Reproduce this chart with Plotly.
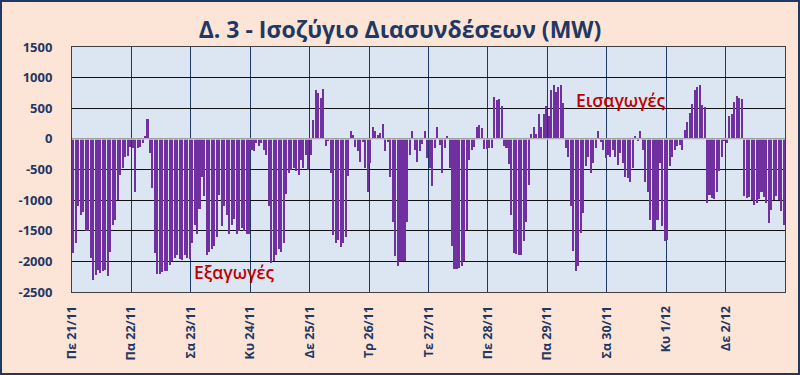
import plotly.graph_objects as go

# ---- data (hourly net interconnection balance, MW) ----
day_labels = ["Πε 21/11", "Πα 22/11", "Σα 23/11", "Κυ 24/11", "Δε 25/11", "Τρ 26/11",
              "Τε 27/11", "Πε 28/11", "Πα 29/11", "Σα 30/11", "Κυ 1/12", "Δε 2/12"]

d_21_11 = [-1860, -1700, -1100, -1240, -1200, -1500, -1510, -1950, -2300, -2220, -2140, -2190,
           -2160, -2140, -2245, -1840, -1400, -1320, -1000, -590, -480, -290, -280, -125]
d_22_11 = [-150, -860, -150, -125, -60, 40, 330, -230, -800, -1860, -2200, -2200,
           -2180, -2150, -2150, -2060, -2000, -1950, -1900, -1960, -1980, -1900, -1940, -1960]
d_23_11 = [-1700, -1400, -1550, -1150, -620, -940, -1900, -1850, -1800, -1750, -1600, -920,
           -1430, -1100, -1250, -1550, -1400, -1300, -1550, -1500, -1450, -1500, -1550, -1550]
d_24_11 = [-180, -200, -70, -120, -60, -180, -260, -1100, -2030, -2000, -1900, -1800,
           -1850, -1700, -900, -560, -500, -480, -520, -590, -340, -480, -260, -500]
d_25_11 = [-260, 310, 800, 750, 660, 810, -115, -40, -560, -1570, -1700, -1650,
           -1770, -1700, -1600, -600, 135, 65, -125, -200, -370, -50, -480, -860]
d_26_11 = [-400, 200, 130, 60, 100, 250, -200, -50, -620, -1350, -1920, -2080,
           -2000, -2000, -1990, -1360, -260, 135, -180, -370, -200, -80, 135, -320]
d_27_11 = [-480, -765, -150, 200, -100, -550, -150, 40, -480, -1755, -2125, -2125,
           -2100, -2080, -2000, -1490, -340, -180, -125, 190, 230, 175, -170, -170]
d_28_11 = [-150, -150, 680, 640, 650, 540, -115, -150, -410, -1240, -1865, -1880,
           -1890, -1890, -1675, -1365, -750, 80, 200, 80, 410, 200, 410, 540]
d_29_11 = [375, 800, 880, 770, 850, 880, 580, -150, -290, -1100, -1835, -2160,
           -2080, -1540, -1210, -450, -290, -560, -400, -150, 135, -50, -180, -310]
d_30_11 = [-260, -290, -180, -290, -425, -235, -400, -615, -640, -700, -480, 40,
           -40, 135, -180, -700, -860, -1320, -1485, -1485, -1320, -400, -1430, -1675]
d_01_12 = [-1650, -450, -290, -180, -120, -100, -180, 145, 280, 430, 570, 800,
           850, 880, 555, 525, -1050, -910, -960, -985, -860, -530, -300, -40]
d_02_12 = [-60, 375, 410, 610, 700, 670, 650, -940, -970, -950, -1000, -1080,
           -1050, -980, -860, -950, -1050, -1380, -1160, -1000, -940, -1000, -1185, -1400]

daily_series = [d_21_11, d_22_11, d_23_11, d_24_11, d_25_11, d_26_11,
                d_27_11, d_28_11, d_29_11, d_30_11, d_01_12, d_02_12]
balance_mw = [v for day in daily_series for v in day]
hours_per_day = 24
hour_index = list(range(len(balance_mw)))

y_ticks = [1500, 1000, 500, 0, -500, -1000, -1500, -2000, -2500]

# ---- layout geometry (pixels) ----
W, H = 800, 375
L, R, T, B = 72, 785, 47, 292


def px_x(p):
    return (p - L) / (R - L)


def px_y(p):
    return (B - p) / (B - T)


NAVY = "#1F3864"
FONT = "'Open Sans', 'Noto Sans', sans-serif"

fig = go.Figure()
fig.add_trace(go.Bar(
    x=hour_index,
    y=balance_mw,
    marker=dict(color="#7030A0", line=dict(width=0)),
    width=0.82,
    hoverinfo="y",
))

fig.update_layout(
    width=W, height=H,
    margin=dict(l=L, r=W - R, t=T, b=H - B, pad=0),
    paper_bgcolor="#FCE4D6",
    plot_bgcolor="#DCE6F2",
    showlegend=False,
    bargap=0,
    font=dict(family=FONT, color=NAVY),
    title=dict(
        text="Δ. 3 - Ισοζύγιο Διασυνδέσεων (MW)",
        x=0.5, xref="container", xanchor="center",
        y=1 - 30 / H, yref="container", yanchor="middle",
        font=dict(size=23, color=NAVY, family=FONT, weight="bold"),
    ),
    xaxis=dict(
        range=[-0.5, len(balance_mw) - 0.5],
        tickmode="array",
        tickvals=[k * hours_per_day - 0.5 for k in range(len(day_labels))],
        ticktext=day_labels,
        tickangle=-90,
        tickfont=dict(size=12.5, color=NAVY, family=FONT, weight="bold"),
        showgrid=True, gridcolor=NAVY, gridwidth=1,
        showline=True, linecolor="#404040", linewidth=1, mirror=True,
        ticks="", zeroline=False,
        ticklabelstandoff=8,
    ),
    yaxis=dict(
        range=[-2500, 1500],
        tickmode="array",
        tickvals=y_ticks,
        ticktext=[str(v) for v in y_ticks],
        tickfont=dict(size=13, color=NAVY, family=FONT, weight="bold"),
        showgrid=True, gridcolor="#111111", gridwidth=1,
        showline=True, linecolor="#404040", linewidth=1, mirror=True,
        ticks="", zeroline=False,
        ticklabelstandoff=16,
    ),
)

# light category-axis line at zero, drawn above the bars
fig.add_shape(type="line", xref="paper", yref="y", x0=0, x1=1, y0=0, y1=0,
              line=dict(color="#D0D0D0", width=1.5), layer="above")

# outer chart border
fig.add_shape(type="rect", xref="paper", yref="paper",
              x0=px_x(1), x1=px_x(W - 1), y0=px_y(H - 1), y1=px_y(1),
              line=dict(color=NAVY, width=2), layer="below")

fig.add_annotation(text="Εξαγωγές", xref="paper", yref="paper",
                   x=px_x(234), y=px_y(272), xanchor="center", yanchor="middle",
                   showarrow=False,
                   font=dict(size=17.5, color="#C00000", family=FONT, weight=600))
fig.add_annotation(text="Εισαγωγές", xref="paper", yref="paper",
                   x=px_x(621), y=px_y(100), xanchor="center", yanchor="middle",
                   showarrow=False,
                   font=dict(size=17.5, color="#C00000", family=FONT, weight=600))

fig.write_html("out.html", config={"displayModeBar": False},
               post_script="document.body.style.margin='0';")
